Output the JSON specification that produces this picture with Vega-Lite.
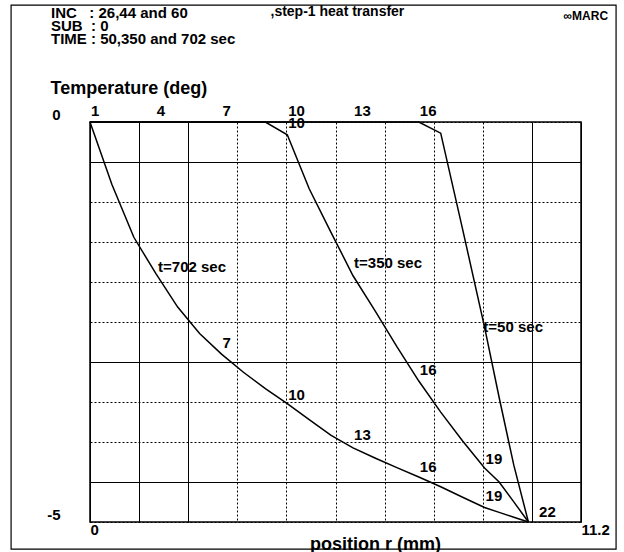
{
  "$schema": "https://vega.github.io/schema/vega-lite/v6.json",
  "width": 491,
  "height": 400,
  "autosize": {"type": "none"},
  "padding": {"left": 90, "top": 122, "right": 43, "bottom": 30},
  "background": "white",
  "config": {
    "font": "Liberation Sans",
    "view": {"stroke": "black", "strokeWidth": 1.5},
    "text": {"font": "Liberation Sans", "fontWeight": "bold", "fontSize": 15, "color": "black"}
  },
  "title": {
    "text": ["INC\u00a0\u00a0 : 26,44 and 60", "SUB\u00a0 : 0", "TIME : 50,350 and 702 sec"],
    "anchor": "start",
    "frame": "group",
    "orient": "top",
    "baseline": "top",
    "offset": -43,
    "dx": -39,
    "font": "Liberation Sans",
    "fontSize": 15,
    "fontWeight": "bold",
    "lineHeight": 13,
    "color": "black"
  },
  "resolve": {"axis": {"x": "independent", "y": "independent"}},
  "datasets": {
    "curves": [
      {"series": "t=702 sec", "x": 0, "temp": 0},
      {"series": "t=702 sec", "x": 0.5, "temp": -0.782},
      {"series": "t=702 sec", "x": 1.0, "temp": -1.441},
      {"series": "t=702 sec", "x": 1.5, "temp": -1.893},
      {"series": "t=702 sec", "x": 2.0, "temp": -2.313},
      {"series": "t=702 sec", "x": 2.5, "temp": -2.643},
      {"series": "t=702 sec", "x": 3.0, "temp": -2.902},
      {"series": "t=702 sec", "x": 3.5, "temp": -3.128},
      {"series": "t=702 sec", "x": 4.0, "temp": -3.333},
      {"series": "t=702 sec", "x": 4.5, "temp": -3.52},
      {"series": "t=702 sec", "x": 5.0, "temp": -3.719},
      {"series": "t=702 sec", "x": 5.5, "temp": -3.916},
      {"series": "t=702 sec", "x": 6.0, "temp": -4.073},
      {"series": "t=702 sec", "x": 6.5, "temp": -4.2},
      {"series": "t=702 sec", "x": 7.0, "temp": -4.321},
      {"series": "t=702 sec", "x": 7.5, "temp": -4.438},
      {"series": "t=702 sec", "x": 8.0, "temp": -4.56},
      {"series": "t=702 sec", "x": 8.5, "temp": -4.691},
      {"series": "t=702 sec", "x": 9.0, "temp": -4.819},
      {"series": "t=702 sec", "x": 9.333, "temp": -4.88},
      {"series": "t=702 sec", "x": 9.667, "temp": -4.94},
      {"series": "t=702 sec", "x": 10.0, "temp": -5},
      {"series": "t=350 sec", "x": 0, "temp": 0},
      {"series": "t=350 sec", "x": 0.5, "temp": 0},
      {"series": "t=350 sec", "x": 1.0, "temp": 0},
      {"series": "t=350 sec", "x": 1.5, "temp": 0},
      {"series": "t=350 sec", "x": 2.0, "temp": 0},
      {"series": "t=350 sec", "x": 2.5, "temp": 0},
      {"series": "t=350 sec", "x": 3.0, "temp": 0},
      {"series": "t=350 sec", "x": 3.5, "temp": 0},
      {"series": "t=350 sec", "x": 4.0, "temp": 0},
      {"series": "t=350 sec", "x": 4.5, "temp": -0.16},
      {"series": "t=350 sec", "x": 5.0, "temp": -0.834},
      {"series": "t=350 sec", "x": 5.5, "temp": -1.382},
      {"series": "t=350 sec", "x": 6.0, "temp": -1.922},
      {"series": "t=350 sec", "x": 6.5, "temp": -2.357},
      {"series": "t=350 sec", "x": 7.0, "temp": -2.809},
      {"series": "t=350 sec", "x": 7.5, "temp": -3.238},
      {"series": "t=350 sec", "x": 8.0, "temp": -3.626},
      {"series": "t=350 sec", "x": 8.5, "temp": -3.988},
      {"series": "t=350 sec", "x": 9.0, "temp": -4.324},
      {"series": "t=350 sec", "x": 9.333, "temp": -4.5},
      {"series": "t=350 sec", "x": 9.667, "temp": -4.748},
      {"series": "t=350 sec", "x": 10.0, "temp": -5},
      {"series": "t=50 sec", "x": 0, "temp": 0},
      {"series": "t=50 sec", "x": 0.5, "temp": 0},
      {"series": "t=50 sec", "x": 1.0, "temp": 0},
      {"series": "t=50 sec", "x": 1.5, "temp": 0},
      {"series": "t=50 sec", "x": 2.0, "temp": 0},
      {"series": "t=50 sec", "x": 2.5, "temp": 0},
      {"series": "t=50 sec", "x": 3.0, "temp": 0},
      {"series": "t=50 sec", "x": 3.5, "temp": 0},
      {"series": "t=50 sec", "x": 4.0, "temp": 0},
      {"series": "t=50 sec", "x": 4.5, "temp": 0},
      {"series": "t=50 sec", "x": 5.0, "temp": 0},
      {"series": "t=50 sec", "x": 5.5, "temp": 0},
      {"series": "t=50 sec", "x": 6.0, "temp": 0},
      {"series": "t=50 sec", "x": 6.5, "temp": 0},
      {"series": "t=50 sec", "x": 7.0, "temp": 0},
      {"series": "t=50 sec", "x": 7.5, "temp": 0},
      {"series": "t=50 sec", "x": 8.0, "temp": -0.14},
      {"series": "t=50 sec", "x": 8.5, "temp": -1.343},
      {"series": "t=50 sec", "x": 9.0, "temp": -2.563},
      {"series": "t=50 sec", "x": 9.333, "temp": -3.444},
      {"series": "t=50 sec", "x": 9.667, "temp": -4.29},
      {"series": "t=50 sec", "x": 10.0, "temp": -5}
    ],
    "labels": [
      {"label": "1", "x": 0, "temp": 0.07},
      {"label": "4", "x": 1.5, "temp": 0.07},
      {"label": "7", "x": 3.0, "temp": 0.07},
      {"label": "10", "x": 4.5, "temp": 0.07},
      {"label": "13", "x": 6.0, "temp": 0.07},
      {"label": "16", "x": 7.5, "temp": 0.07},
      {"label": "10", "x": 4.5, "temp": -0.075},
      {"label": "16", "x": 7.5, "temp": -3.16},
      {"label": "19", "x": 9.0, "temp": -4.28},
      {"label": "7", "x": 3.0, "temp": -2.82},
      {"label": "10", "x": 4.5, "temp": -3.47},
      {"label": "13", "x": 6.0, "temp": -3.97},
      {"label": "16", "x": 7.5, "temp": -4.38},
      {"label": "19", "x": 9.0, "temp": -4.74},
      {"label": "22", "x": 10.22, "temp": -4.94},
      {"label": "t=702 sec", "x": 1.53, "temp": -1.87},
      {"label": "t=350 sec", "x": 6.0, "temp": -1.82},
      {"label": "t=50 sec", "x": 8.95, "temp": -2.63}
    ]
  },
  "layer": [
    {
      "data": {"values": [{}]},
      "mark": {"type": "rect", "fill": "transparent", "stroke": "black", "strokeWidth": 1.2},
      "encoding": {
        "x": {"datum": -1.8, "type": "quantitative", "scale": {"domain": [0, 11.2], "nice": false, "zero": false}, "axis": null},
        "x2": {"datum": 12.0},
        "y": {"datum": 1.46, "type": "quantitative", "scale": {"domain": [-5, 0], "nice": false, "zero": false}, "axis": null},
        "y2": {"datum": -5.34}
      }
    },
    {
      "data": {"name": "curves"},
      "mark": {"type": "line", "color": "black", "strokeWidth": 1.5, "clip": false},
      "encoding": {
        "x": {
          "field": "x",
          "type": "quantitative",
          "scale": {"domain": [0, 11.2], "nice": false, "zero": false},
          "axis": {
            "orient": "bottom",
            "values": [0, 1.12, 2.24, 3.36, 4.48, 5.6, 6.72, 7.84, 8.96, 10.08, 11.2],
            "labelExpr": "datum.value == 0 || datum.value > 11 ? toString(datum.value) : ''",
            "labelAlign": "left",
            "labelBaseline": "top",
            "labelPadding": 0,
            "labelFont": "Liberation Sans",
            "labelFontSize": 15,
            "labelFontWeight": "bold",
            "labelColor": "black",
            "labelOverlap": false,
            "labelFlush": false,
            "ticks": false,
            "domain": false,
            "grid": true,
            "gridColor": "black",
            "gridOpacity": 1,
            "gridWidth": 1,
            "gridDash": {"condition": {"test": "datum.value < 3 || datum.value > 10", "value": []}, "value": [2, 2]},
            "title": "position r (mm)",
            "titleFont": "Liberation Sans",
            "titleFontSize": 18,
            "titleFontWeight": "bold",
            "titleColor": "black",
            "titleAlign": "center",
            "titleBaseline": "middle",
            "titleX": 285,
            "titleY": 22
          }
        },
        "y": {
          "field": "temp",
          "type": "quantitative",
          "scale": {"domain": [-5, 0], "nice": false, "zero": false},
          "axis": {
            "orient": "left",
            "values": [-5, -4.5, -4, -3.5, -3, -2.5, -2, -1.5, -1, -0.5, 0],
            "labelExpr": "datum.value == 0 || datum.value == -5 ? toString(datum.value) : ''",
            "labelAlign": "right",
            "labelBaseline": "alphabetic",
            "labelOffset": -3,
            "labelPadding": 30,
            "labelFont": "Liberation Sans",
            "labelFontSize": 15,
            "labelFontWeight": "bold",
            "labelColor": "black",
            "labelOverlap": false,
            "labelFlush": false,
            "ticks": false,
            "domain": false,
            "grid": true,
            "gridColor": "black",
            "gridOpacity": 1,
            "gridWidth": 1,
            "gridDash": {"condition": {"test": "datum.value == -0.5 || datum.value == -3 || datum.value == -4.5", "value": []}, "value": [2, 2]},
            "title": "Temperature (deg)",
            "titleFont": "Liberation Sans",
            "titleFontSize": 18,
            "titleFontWeight": "bold",
            "titleColor": "black",
            "titleAngle": 0,
            "titleAlign": "left",
            "titleBaseline": "middle",
            "titleX": -40,
            "titleY": -34
          }
        },
        "detail": {"field": "series", "type": "nominal"}
      }
    },
    {
      "data": {"name": "labels"},
      "mark": {"type": "text", "align": "left", "baseline": "alphabetic", "dx": 1, "clip": false},
      "encoding": {
        "x": {
          "field": "x",
          "type": "quantitative",
          "scale": {"domain": [0, 11.2], "nice": false, "zero": false},
          "axis": {
            "orient": "top",
            "domain": false,
            "ticks": false,
            "labels": false,
            "grid": false,
            "title": ",step-1 heat transfer",
            "titleFont": "Liberation Sans",
            "titleFontSize": 14,
            "titleFontWeight": "bold",
            "titleColor": "black",
            "titleAlign": "left",
            "titleBaseline": "middle",
            "titleX": 180,
            "titleY": -111
          }
        },
        "y": {
          "field": "temp",
          "type": "quantitative",
          "scale": {"domain": [-5, 0], "nice": false, "zero": false},
          "axis": {
            "orient": "right",
            "domain": false,
            "ticks": false,
            "labels": false,
            "grid": false,
            "title": "\u221eMARC",
            "titleFont": "Liberation Sans Narrow, Liberation Sans",
            "titleFontSize": 12,
            "titleFontWeight": "bold",
            "titleColor": "black",
            "titleAngle": 0,
            "titleAlign": "left",
            "titleBaseline": "middle",
            "titleX": -18,
            "titleY": -107
          }
        },
        "text": {"field": "label", "type": "nominal"}
      }
    }
  ]
}
